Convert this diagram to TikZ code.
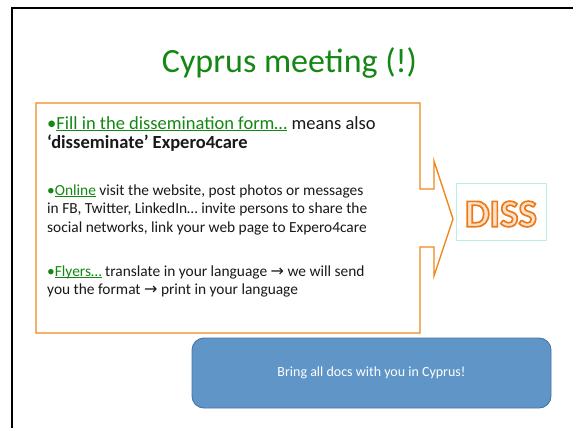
\documentclass[tikz,border=0pt]{standalone}
\usepackage{fontspec}
\setmainfont{Carlito}
\newfontfamily\arrfont{DejaVu Sans}
\definecolor{tgreen}{RGB}{20,135,20}
\definecolor{corange}{RGB}{240,135,30}
\definecolor{dissline}{RGB}{185,238,228}
\definecolor{dissfill}{RGB}{253,225,200}
\definecolor{bfill}{RGB}{96,149,200}
\definecolor{bline}{RGB}{72,116,165}
\definecolor{txt}{RGB}{25,25,25}
\newcommand\ulk[1]{\setbox0\hbox{#1}\rlap{\rule[-1.9pt]{\wd0}{0.8pt}}\box0}
\newcommand\rarr{{\arrfont\fontsize{16}{14}\selectfont →}}
\newcommand\strokedtext[1]{\special{pdf:literal direct 2 Tr 1.7 w 0.925 0.478 0.094 RG}#1\special{pdf:literal direct 0 Tr}}
\begin{document}
\begin{tikzpicture}[x=1pt,y=-1pt,
  line/.style={inner sep=0pt,anchor=base west,text=txt},
  big/.style={font=\fontsize{18.5}{22}\selectfont},
  small/.style={font=\fontsize{15.4}{18}\selectfont}]
\useasboundingbox (0,0) rectangle (573,428);
\fill[white] (0,0) rectangle (573,428);
% slide frame
\draw[line width=2pt,black] (12,428) -- (12,8) -- (573,8);
% title
\node[inner sep=0pt,anchor=base,text=tgreen,font=\fontsize{34}{40}\selectfont] (title) at (289.5,73) {Cyprus meeting (!)};
% callout
\draw[corange,line width=1.4pt,line join=miter]
  (36,103) -- (420,103) -- (420,189) -- (434,189) -- (434,161) -- (453,219)
  -- (434,276) -- (434,247) -- (420,247) -- (420,333) -- (36,333) -- cycle;
% paragraph 1
\node[line,big] (p1a) at (47,129) {\textcolor{tgreen}{•\ulk{Fill in the dissemination form…}} means also};
\node[line,big] (p1b) at (47,148) {\bfseries ‘disseminate’ Expero4care};
% paragraph 2
\node[line,small] (p2a) at (47,195) {\textcolor{tgreen}{•\ulk{Online}} visit the website, post photos or messages};
\node[line,small] (p2b) at (47,213) {in FB, Twitter, LinkedIn… invite persons to share the};
\node[line,small] (p2c) at (47,232) {social networks, link your web page to Expero4care};
% paragraph 3
\node[line,small] (p3a) at (47,276) {\textcolor{tgreen}{•\ulk{Flyers…}} translate in your language \rarr{} we will send};
\node[line,small] (p3b) at (47,294) {you the format \rarr{} print in your language};
% DISS box
\node[draw=dissline,line width=0.8pt,minimum width=90pt,minimum height=57pt,inner sep=0pt] (dissbox) at (501,211.5) {};
\node[inner sep=0pt,text=dissfill,font=\fontsize{39}{40}\selectfont\bfseries] (diss) at (501,214) {\strokedtext{DISS}};
% blue box
\node[draw=bline,fill=bfill,line width=0.9pt,rounded corners=12pt,minimum width=359pt,minimum height=70pt,inner sep=0pt,text=white,font=\fontsize{14}{16}\selectfont] (bring) at (371.5,373) {Bring all docs with you in Cyprus!};
\end{tikzpicture}
\end{document}
